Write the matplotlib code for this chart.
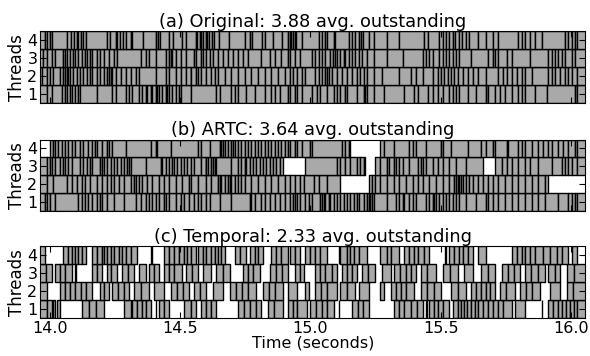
import matplotlib.pyplot as plt

# Each thread row is a list of runs; a run is a list of request boundaries (seconds).
# Consecutive boundaries inside a run are back-to-back requests; gaps between runs are idle.

titles = ['(a) Original: 3.88 avg. outstanding',
          '(b) ARTC: 3.64 avg. outstanding',
          '(c) Temporal: 2.33 avg. outstanding']
thread_labels = [1, 2, 3, 4]
xticks = [14.0, 14.5, 15.0, 15.5, 16.0]

# ---------------- (a) Original ----------------
orig_t4 = [[13.95, 13.981, 13.989, 14.000, 14.008, 14.065, 14.080, 14.091, 14.103, 14.106, 14.118,
            14.125, 14.137, 14.217, 14.232, 14.255, 14.258, 14.270, 14.281, 14.293, 14.312, 14.315,
            14.357, 14.407, 14.414, 14.422, 14.456, 14.471, 14.505, 14.521, 14.559, 14.566, 14.574,
            14.581, 14.589, 14.597, 14.604, 14.612, 14.623, 14.631, 14.650, 14.688, 14.749, 14.768,
            14.775, 14.813, 14.825, 14.855, 14.889, 14.912, 14.920, 14.927, 14.931, 14.939, 14.946,
            14.969, 15.034, 15.045, 15.056, 15.064, 15.091, 15.094, 15.148, 15.159, 15.170, 15.186,
            15.193, 15.201, 15.224, 15.243, 15.292, 15.338, 15.436, 15.452, 15.493, 15.509, 15.520,
            15.531, 15.547, 15.554, 15.569, 15.581, 15.596, 15.607, 15.645, 15.672, 15.702, 15.721,
            15.797, 15.813, 15.824, 15.843, 15.862, 15.889, 15.976, 15.987, 16.003, 16.014, 16.025,
            16.07]]
orig_t3 = [[13.95, 13.973, 13.989, 14.008, 14.019, 14.049, 14.057, 14.065, 14.076, 14.087, 14.095,
            14.106, 14.122, 14.133, 14.141, 14.152, 14.163, 14.179, 14.190, 14.209, 14.228, 14.247,
            14.258, 14.350, 14.369, 14.380, 14.407, 14.445, 14.456, 14.464, 14.467, 14.483, 14.502,
            14.521, 14.551, 14.562, 14.581, 14.589, 14.600, 14.616, 14.627, 14.646, 14.665, 14.684,
            14.703, 14.722, 14.741, 14.760, 14.809, 14.844, 14.863, 14.885, 14.912, 14.923, 14.939,
            14.961, 15.007, 15.018, 15.034, 15.045, 15.056, 15.075, 15.087, 15.094, 15.102, 15.113,
            15.129, 15.132, 15.148, 15.159, 15.170, 15.186, 15.197, 15.216, 15.243, 15.292, 15.357,
            15.433, 15.444, 15.455, 15.471, 15.493, 15.509, 15.520, 15.531, 15.547, 15.558, 15.569,
            15.615, 15.683, 15.699, 15.710, 15.721, 15.756, 15.775, 15.843, 15.911, 15.927, 15.938,
            15.949, 15.965, 15.976, 16.003, 16.014, 16.07]]
orig_t2 = [[13.95, 13.970, 13.989, 14.000, 14.011, 14.038, 14.049, 14.057, 14.065, 14.068, 14.076,
            14.087, 14.103, 14.114, 14.125, 14.141, 14.152, 14.163, 14.179, 14.190, 14.209, 14.217,
            14.228, 14.236, 14.239, 14.255, 14.274, 14.293, 14.312, 14.331, 14.342, 14.407, 14.445,
            14.456, 14.483, 14.502, 14.521, 14.540, 14.543, 14.559, 14.570, 14.581, 14.597, 14.619,
            14.635, 14.646, 14.673, 14.695, 14.722, 14.749, 14.771, 14.798, 14.825, 14.847, 14.874,
            14.901, 14.923, 14.931, 14.950, 14.969, 14.980, 15.018, 15.034, 15.045, 15.056, 15.064,
            15.072, 15.083, 15.102, 15.121, 15.140, 15.159, 15.178, 15.189, 15.205, 15.216, 15.243,
            15.273, 15.341, 15.387, 15.406, 15.433, 15.471, 15.490, 15.501, 15.512, 15.528, 15.539,
            15.550, 15.566, 15.585, 15.604, 15.623, 15.645, 15.672, 15.721, 15.740, 15.756, 15.775,
            15.794, 15.813, 15.824, 15.851, 15.911, 15.927, 15.938, 15.957, 15.976, 15.987, 16.003,
            16.022, 16.07]]
orig_t1 = [[13.95, 13.989, 14.008, 14.046, 14.057, 14.065, 14.076, 14.084, 14.095, 14.106, 14.114,
            14.179, 14.239, 14.255, 14.293, 14.304, 14.315, 14.342, 14.353, 14.369, 14.372, 14.388,
            14.391, 14.407, 14.410, 14.418, 14.429, 14.445, 14.448, 14.456, 14.467, 14.483, 14.494,
            14.502, 14.540, 14.638, 14.654, 14.695, 14.711, 14.722, 14.752, 14.787, 14.825, 14.847,
            14.863, 14.882, 14.912, 14.923, 14.939, 14.950, 14.969, 15.007, 15.026, 15.037, 15.064,
            15.091, 15.102, 15.113, 15.132, 15.140, 15.178, 15.205, 15.208, 15.216, 15.243, 15.281,
            15.360, 15.398, 15.414, 15.452, 15.471, 15.490, 15.509, 15.531, 15.547, 15.558, 15.569,
            15.604, 15.634, 15.672, 15.680, 15.683, 15.710, 15.729, 15.748, 15.775, 15.797, 15.813,
            15.824, 15.862, 15.908, 16.014, 16.022, 16.025, 16.07]]

# ---------------- (b) ARTC ----------------
artc_t4 = [[14.000, 14.011, 14.019, 14.030, 14.046, 14.057, 14.068, 14.084, 14.095, 14.114, 14.125,
            14.144, 14.160, 14.171, 14.182, 14.198, 14.217, 14.228, 14.239, 14.293, 14.388, 14.407,
            14.410, 14.464, 14.570, 14.581, 14.616, 14.654, 14.657, 14.665, 14.673, 14.684, 14.695,
            14.703, 14.711, 14.722, 14.733, 14.749, 14.760, 14.771, 14.787, 14.798, 14.809, 14.825,
            14.836, 14.847, 14.863, 14.874, 14.885, 14.901, 14.912, 14.923, 14.939, 14.950, 14.969,
            15.000, 15.007, 15.121, 15.132, 15.148, 15.151],
           [15.265, 15.284, 15.319, 15.379, 15.395, 15.406, 15.444, 15.501, 15.509, 15.539, 15.604,
            15.653, 15.672, 15.702, 15.710, 15.756, 15.759, 15.797, 15.813, 15.824, 15.851, 15.873,
            15.892, 15.911, 15.927, 15.949, 15.968, 15.987, 16.014, 16.025, 16.07]]
artc_t3 = [[13.95, 13.989, 14.000, 14.008, 14.019, 14.038, 14.049, 14.057, 14.068, 14.084, 14.114,
            14.125, 14.141, 14.152, 14.163, 14.190, 14.198, 14.209, 14.220, 14.236, 14.247, 14.258,
            14.274, 14.285, 14.296, 14.304, 14.312, 14.369, 14.426, 14.429, 14.445, 14.456, 14.467,
            14.475, 14.486, 14.502, 14.513, 14.524, 14.540, 14.551, 14.581, 14.597, 14.600, 14.608,
            14.619, 14.627, 14.635, 14.638, 14.695, 14.722, 14.733, 14.749, 14.752, 14.768, 14.779,
            14.790, 14.806, 14.817, 14.828, 14.844, 14.855, 14.866, 14.882, 14.893],
           [14.980, 15.102, 15.113, 15.132, 15.151, 15.178, 15.189, 15.205, 15.208],
           [15.246, 15.265, 15.292, 15.303, 15.319, 15.330, 15.341, 15.357, 15.379, 15.414, 15.425,
            15.433, 15.444, 15.471, 15.490, 15.509, 15.531, 15.558, 15.596, 15.661],
           [15.710, 15.737, 15.756, 15.775, 15.797, 15.824, 15.843, 15.873, 15.927, 15.965, 15.976,
            15.987, 16.003, 16.022, 16.07]]
artc_t2 = [[13.95, 13.989, 14.011, 14.065, 14.084, 14.103, 14.122, 14.133, 14.152, 14.179, 14.198,
            14.217, 14.236, 14.247, 14.266, 14.285, 14.312, 14.323, 14.331, 14.342, 14.353, 14.372,
            14.391, 14.418, 14.437, 14.456, 14.483, 14.505, 14.532, 14.543, 14.570, 14.597, 14.619,
            14.646, 14.654, 14.657, 14.673, 14.684, 14.692, 14.695, 14.711, 14.722, 14.733, 14.749,
            14.771, 14.798, 14.825, 14.847, 14.874, 14.901, 14.920, 14.939, 14.961, 14.977, 15.015,
            15.034, 15.064, 15.113],
           [15.224, 15.235, 15.246, 15.265, 15.292, 15.319, 15.341, 15.368, 15.395, 15.414, 15.433,
            15.455, 15.482, 15.509, 15.531, 15.550, 15.558, 15.566, 15.569, 15.577, 15.585, 15.596,
            15.607, 15.623, 15.642, 15.661, 15.683, 15.702, 15.721, 15.748, 15.775, 15.797, 15.824,
            15.851, 15.873, 15.900, 15.911]]
artc_t1 = [[13.95, 13.981, 13.989, 14.000, 14.019, 14.106, 14.122, 14.133, 14.144, 14.160, 14.179,
            14.190, 14.198, 14.220, 14.247, 14.285, 14.331, 14.350, 14.369, 14.380, 14.391, 14.407,
            14.418, 14.437, 14.445, 14.456, 14.483, 14.502, 14.513, 14.532, 14.551, 14.570, 14.581,
            14.597, 14.616, 14.654, 14.695, 14.768, 14.771, 14.787, 14.809, 14.825, 14.844, 14.863,
            14.882, 14.901, 14.920, 14.931, 14.939, 14.950, 14.961, 14.980, 14.996, 15.007, 15.037,
            15.045, 15.053, 15.056, 15.072, 15.075, 15.091, 15.102, 15.113, 15.129, 15.140, 15.151,
            15.167, 15.178, 15.186, 15.205, 15.216, 15.224, 15.227, 15.235, 15.243, 15.292, 15.330,
            15.341, 15.357, 15.360, 15.379, 15.395, 15.406, 15.444, 15.455, 15.471, 15.474, 15.482,
            15.493, 15.509, 15.520, 15.531, 15.547, 15.558, 15.569, 15.596, 15.634, 15.672, 15.683,
            15.699, 15.721, 15.748, 15.775, 15.797, 15.824, 15.851, 15.873, 15.900, 15.949, 15.987,
            16.003, 16.014, 16.025, 16.07]]

# ---------------- (c) Temporal ----------------
temp_t4 = [[13.95, 13.981],
           [14.049, 14.068, 14.084, 14.095, 14.106, 14.122, 14.137],
           [14.163, 14.182, 14.198, 14.209, 14.220, 14.236, 14.247, 14.266, 14.277, 14.293, 14.312, 14.334],
           [14.389, 14.392],
           [14.437, 14.456, 14.475, 14.494, 14.513, 14.524, 14.540, 14.559],
           [14.570, 14.589, 14.600, 14.619, 14.635, 14.646, 14.657, 14.673],
           [14.711, 14.730, 14.752],
           [14.768, 14.787, 14.798, 14.817],
           [14.847, 14.866, 14.885, 14.912],
           [14.923, 14.939, 14.961],
           [14.980, 14.999, 15.018, 15.037, 15.064],
           [15.108, 15.111],
           [15.113, 15.140, 15.151, 15.167, 15.186, 15.216],
           [15.265, 15.292, 15.311, 15.341],
           [15.360, 15.379, 15.398, 15.414, 15.436, 15.455],
           [15.518, 15.521],
           [15.531, 15.550, 15.569, 15.585, 15.604, 15.623],
           [15.642, 15.672],
           [15.775, 15.794, 15.813, 15.824, 15.843, 15.862, 15.892, 15.919, 15.946, 15.965, 15.987],
           [16.003, 16.025]]
temp_t3 = [[13.95, 13.985, 14.008], [14.019, 14.038, 14.057, 14.084], [14.097, 14.100],
           [14.163, 14.182, 14.201], [14.217, 14.236, 14.258], [14.277, 14.300, 14.323],
           [14.342, 14.369], [14.380, 14.399, 14.418], [14.437, 14.456, 14.475, 14.505],
           [14.521, 14.545, 14.570], [14.589, 14.619], [14.638, 14.665, 14.692],
           [14.741, 14.760, 14.779, 14.806], [14.844, 14.866, 14.889, 14.912],
           [14.939, 14.958, 14.977], [15.018, 15.037, 15.056, 15.083, 15.102],
           [15.121, 15.140, 15.159, 15.178], [15.197, 15.220, 15.246], [15.273, 15.311],
           [15.322, 15.345, 15.368, 15.384, 15.406], [15.425, 15.448, 15.482],
           [15.509, 15.535, 15.566], [15.588, 15.623], [15.653, 15.680, 15.710],
           [15.737, 15.760, 15.782, 15.805], [15.824, 15.847, 15.873, 15.900],
           [15.911, 15.938, 15.957], [15.984, 16.010, 16.07]]
temp_t2 = [[13.95, 13.989], [14.038, 14.057, 14.076, 14.095, 14.118, 14.137, 14.160],
           [14.190, 14.209, 14.228], [14.239, 14.262, 14.285, 14.304], [14.323, 14.350, 14.380],
           [14.399, 14.437], [14.464, 14.486, 14.509, 14.532], [14.551, 14.577, 14.600],
           [14.627, 14.665], [14.692, 14.714, 14.737, 14.760, 14.790],
           [14.817, 14.840, 14.863, 14.893], [14.912, 14.950], [14.980, 14.996],
           [15.018, 15.041, 15.064, 15.102], [15.113, 15.140, 15.170], [15.186, 15.224],
           [15.265, 15.284], [15.311, 15.330, 15.349, 15.368, 15.398],
           [15.425, 15.448, 15.474, 15.501], [15.539, 15.566, 15.596],
           [15.615, 15.634, 15.653, 15.672, 15.691, 15.710], [15.729, 15.752, 15.786],
           [15.805, 15.828, 15.851, 15.881], [15.919, 15.957], [15.984, 16.006, 16.07]]
temp_t1 = [[13.95, 13.990, 14.008], [14.011, 14.019], [14.027, 14.038],
           [14.122, 14.148, 14.175, 14.209], [14.285, 14.312],
           [14.315, 14.334, 14.353, 14.369, 14.388], [14.405, 14.408],
           [14.418, 14.437, 14.456], [14.513, 14.540, 14.562], [14.581, 14.600, 14.619, 14.638],
           [14.722, 14.745, 14.768, 14.790, 14.809], [14.836, 14.859, 14.893],
           [14.912, 14.931, 14.950, 14.988], [14.999, 15.022, 15.045, 15.064, 15.091],
           [15.108, 15.111], [15.159, 15.182, 15.201, 15.224],
           [15.319, 15.341, 15.360, 15.387, 15.409, 15.433], [15.443, 15.446],
           [15.455, 15.474, 15.490, 15.509, 15.531],
           [15.547, 15.566, 15.577, 15.588, 15.600, 15.615, 15.630, 15.645, 15.664, 15.683,
            15.702, 15.721, 15.740, 15.775],
           [15.786, 15.824], [15.887, 15.890],
           [15.911, 15.930, 15.949, 15.965, 15.980, 15.995, 16.010, 16.025, 16.07]]

panels = [[orig_t1, orig_t2, orig_t3, orig_t4],
          [artc_t1, artc_t2, artc_t3, artc_t4],
          [temp_t1, temp_t2, temp_t3, temp_t4]]

fig = plt.figure(figsize=(5.9, 3.56), dpi=100)
bottoms = [0.711, 0.407, 0.107]

for k in range(3):
    ax = fig.add_axes([0.068, bottoms[k], 0.924, 0.201])
    for row, runs in zip(thread_labels, panels[k]):
        for run in runs:
            segs = [(run[i], run[i + 1] - run[i]) for i in range(len(run) - 1)]
            ax.broken_barh(segs, (row - 0.5, 1), facecolors='#a9a9a9',
                           edgecolors='black', linewidth=1)
    ax.set_xlim(13.962, 16.055)
    ax.set_ylim(0.5, 4.5)
    ax.set_yticks(thread_labels)
    ax.set_xticks(xticks)
    ax.tick_params(direction='in', top=True, right=True, labelsize=11.5, length=4, pad=2)
    ax.set_ylabel('Threads', fontsize=12, labelpad=1)
    ax.set_title(titles[k], fontsize=12.8, pad=3)
    if k < 2:
        ax.tick_params(labelbottom=False)
    else:
        ax.set_xticklabels(['%.1f' % v for v in xticks])
        ax.set_xlabel('Time (seconds)', fontsize=11.5, labelpad=0)

fig.savefig('out.png', dpi=100)
